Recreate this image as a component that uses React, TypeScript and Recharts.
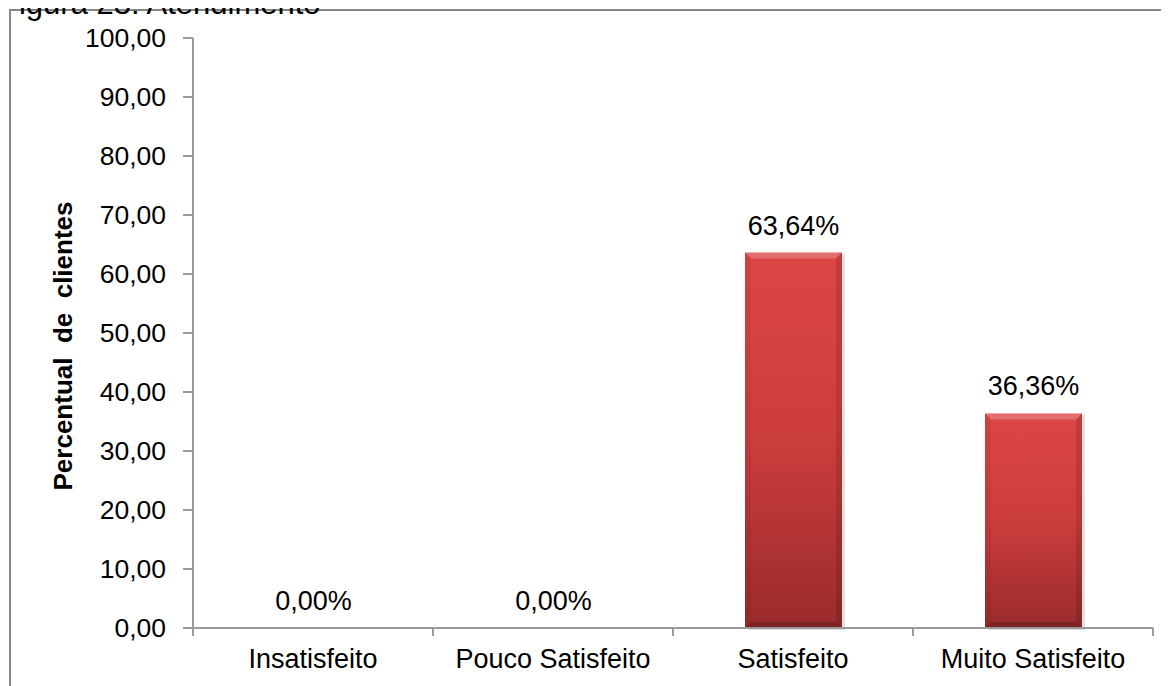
import React from 'react';
import { BarChart, Bar, XAxis, YAxis, LabelList } from 'recharts';

const categories = ['Insatisfeito', 'Pouco Satisfeito', 'Satisfeito', 'Muito Satisfeito'];
const percentValues = [0, 0, 63.64, 36.36];
const yTicks = [0, 10, 20, 30, 40, 50, 60, 70, 80, 90, 100];
const yAxisTitle = 'Percentual  de  clientes';
const figureTitle = 'Figura 23: Atendimento';

const data = categories.map((name, i) => ({ name, value: percentValues[i] }));

const FONT = '"Liberation Sans", Arial, sans-serif';
const AXIS = '#9a9a9a';

const fmtTick = (v: number) => v.toFixed(2).replace('.', ',');
const fmtLabel = (v: number) => v.toFixed(2).replace('.', ',') + '%';

const XTick = (props: any) => {
  const { x, y, payload, index, visibleTicksCount } = props;
  const half = payload && typeof payload.offset === 'number' && payload.offset > 0 ? payload.offset : 120;
  const axisY = y - 21;
  return (
    <g>
      <line x1={x - half} x2={x - half} y1={axisY} y2={axisY + 8} stroke={AXIS} strokeWidth={2} />
      {index === visibleTicksCount - 1 && (
        <line x1={x + half} x2={x + half} y1={axisY} y2={axisY + 8} stroke={AXIS} strokeWidth={2} />
      )}
      <text x={x} y={y + 19} textAnchor="middle" fontSize={27} fill="#000" fontFamily={FONT}>
        {payload.value}
      </text>
    </g>
  );
};

const BevelBar = (props: any) => {
  const { x, y, width, height, index } = props;
  if (!height || height <= 0) return <g />;
  const b = Math.min(6, height / 2);
  const gid = `barGrad${index}`;
  return (
    <g>
      <defs>
        <linearGradient id={gid} x1="0" y1="0" x2="0" y2="1">
          <stop offset="0%" stopColor="#dc4646" />
          <stop offset="50%" stopColor="#cc3d3d" />
          <stop offset="100%" stopColor="#9a2b2b" />
        </linearGradient>
      </defs>
      <rect x={x + 3} y={y + 2} width={width} height={height} fill="#000" opacity={0.12} />
      <rect x={x} y={y} width={width} height={height} fill={`url(#${gid})`} />
      <polygon
        points={`${x},${y} ${x + width},${y} ${x + width - b},${y + b} ${x + b},${y + b}`}
        fill="#fff"
        opacity={0.22}
      />
      <polygon
        points={`${x},${y} ${x + b},${y + b} ${x + b},${y + height - b} ${x},${y + height}`}
        fill="#000"
        opacity={0.05}
      />
      <polygon
        points={`${x + width},${y} ${x + width},${y + height} ${x + width - b},${y + height - b} ${x + width - b},${y + b}`}
        fill="#000"
        opacity={0.12}
      />
      <polygon
        points={`${x},${y + height} ${x + b},${y + height - b} ${x + width - b},${y + height - b} ${x + width},${y + height}`}
        fill="#000"
        opacity={0.2}
      />
    </g>
  );
};

const BarLabel = (props: any) => {
  const { x, y, width, value } = props;
  return (
    <text x={x + width / 2} y={y - 18} textAnchor="middle" fontSize={27} fill="#000" fontFamily={FONT}>
      {fmtLabel(Number(value))}
    </text>
  );
};

const YTitle = () => (
  <text
    transform="translate(72,346) rotate(-90)"
    textAnchor="middle"
    fontSize={26}
    fontWeight="bold"
    fill="#000"
    fontFamily={FONT}
    style={{ whiteSpace: 'pre' }}
  >
    {yAxisTitle}
  </text>
);

export default function App() {
  return (
    <div
      style={{
        position: 'relative',
        marginLeft: -8,
        marginTop: -8,
        width: 1169,
        height: 686,
        overflow: 'hidden',
        background: '#fff',
      }}
    >
      <svg width={1169} height={686} style={{ position: 'absolute', left: 0, top: 0 }}>
        <rect x={10} y={10} width={1170} height={690} fill="#fff" stroke="#868686" strokeWidth={2} />
      </svg>
      <div style={{ position: 'absolute', left: 0, top: 0 }}>
        <BarChart
          width={1169}
          height={686}
          data={data}
          margin={{ top: 38, right: 16, bottom: 0, left: 0 }}
        >
          <XAxis
            dataKey="name"
            height={58}
            interval={0}
            axisLine={{ stroke: AXIS, strokeWidth: 2 }}
            tickLine={false}
            tickSize={8}
            tickMargin={13}
            tick={<XTick />}
          />
          <YAxis
            width={193}
            domain={[0, 100]}
            ticks={yTicks}
            interval={0}
            tickFormatter={fmtTick}
            axisLine={{ stroke: AXIS, strokeWidth: 2 }}
            tickLine={{ stroke: AXIS, strokeWidth: 2 }}
            tickSize={10}
            tickMargin={17}
            tick={{ fontSize: 26.5, fill: '#000', fontFamily: FONT }}
            label={{ content: <YTitle /> }}
          />
          <Bar dataKey="value" barSize={97} shape={<BevelBar />} isAnimationActive={false}>
            <LabelList dataKey="value" content={<BarLabel />} />
          </Bar>
        </BarChart>
      </div>
      <svg width={1169} height={30} style={{ position: 'absolute', left: 0, top: 0 }}>
        <text x={0} y={14} fontSize={31} fill="#000" fontFamily={FONT}>
          {figureTitle}
        </text>
      </svg>
    </div>
  );
}
